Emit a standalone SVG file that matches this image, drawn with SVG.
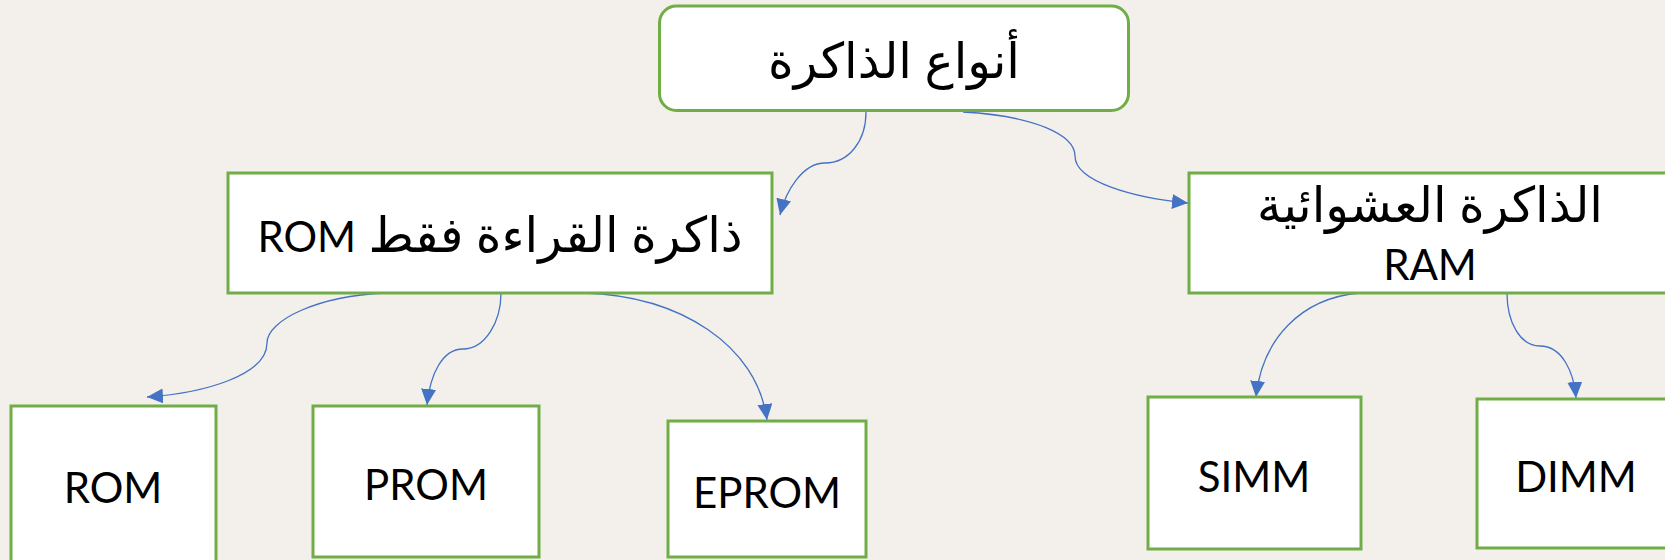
<svg xmlns="http://www.w3.org/2000/svg" width="1665" height="560" viewBox="0 0 1665 560">
  <style>
    .box { fill: #FFFFFF; stroke: #70AD47; stroke-width: 3; }
    .lbl { font-family: "Lato", "DejaVu Sans", sans-serif; font-size: 42px; fill: #000000; text-anchor: middle; }
    .ar { font-size: 49px; }
    .lat { font-size: 42px; }
    .conn { fill: none; stroke: #4472C4; stroke-width: 1.3; marker-end: url(#arrow); }
  </style>
  <defs>
    <marker id="arrow" markerUnits="userSpaceOnUse" markerWidth="17" markerHeight="16" refX="16" refY="7.5" orient="auto">
      <path d="M0,0 L16,7.5 L0,15 Z" fill="#4472C4"/>
    </marker>
  </defs>
  <rect x="0" y="0" width="1665" height="560" fill="#F3F0EB"/>

  <g id="connectors">
    <path class="conn" d="M866,112 C866,142 848,163 825,163 C803,163 786,190 780,215"/>
    <path class="conn" d="M963,112 C1035,116 1075,135 1075,156 C1075,182 1135,198 1188,203"/>
    <path class="conn" d="M385,293 C318,296 267,320 267,343 C267,375 205,393 147,397"/>
    <path class="conn" d="M501,293 C501,322 485,349 463,349 C442,349 430,375 427,405"/>
    <path class="conn" d="M584,293 C680,296 757,345 767,420"/>
    <path class="conn" d="M1360,293 C1300,298 1262,340 1256,397"/>
    <path class="conn" d="M1507,293 C1507,322 1520,346 1540,346 C1562,346 1574,372 1576,398"/>
  </g>

  <g id="node-root">
    <rect class="box" x="659.5" y="6" width="469" height="104.5" rx="17" ry="17"/>
    <text class="lbl ar" x="894" y="78" direction="rtl">أنواع الذاكرة</text>
  </g>

  <g id="node-rom-group">
    <rect class="box" x="228" y="173" width="544" height="120"/>
    <text class="lbl ar" x="500" y="252" direction="rtl">ذاكرة القراءة فقط <tspan class="lat">ROM</tspan></text>
  </g>

  <g id="node-ram-group">
    <rect class="box" x="1189" y="173" width="482" height="120"/>
    <text class="lbl ar" x="1430" y="222" direction="rtl">الذاكرة العشوائية</text>
    <text class="lbl" x="1430" y="280">RAM</text>
  </g>

  <g id="node-rom">
    <rect class="box" x="11" y="406" width="205" height="170"/>
    <text class="lbl" x="113" y="503">ROM</text>
  </g>

  <g id="node-prom">
    <rect class="box" x="313" y="406" width="226" height="151"/>
    <text class="lbl" x="426" y="500">PROM</text>
  </g>

  <g id="node-eprom">
    <rect class="box" x="668" y="421" width="198" height="136"/>
    <text class="lbl" x="767" y="508">EPROM</text>
  </g>

  <g id="node-simm">
    <rect class="box" x="1148" y="397" width="213" height="152"/>
    <text class="lbl" x="1254" y="492">SIMM</text>
  </g>

  <g id="node-dimm">
    <rect class="box" x="1477" y="399" width="197" height="149"/>
    <text class="lbl" x="1576" y="492">DIMM</text>
  </g>
</svg>
